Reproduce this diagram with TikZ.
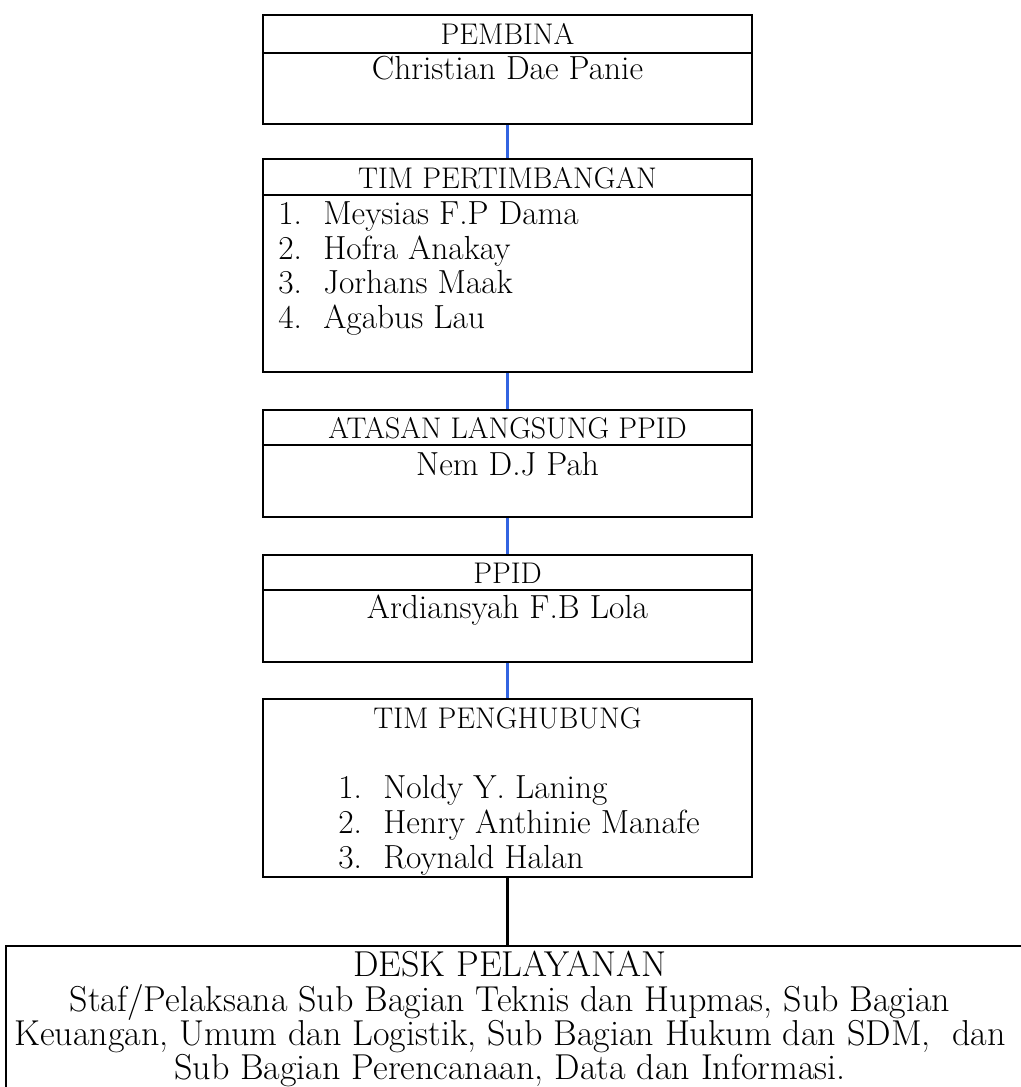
\documentclass[tikz,border=0pt]{standalone}
\usepackage{tikz}
\usetikzlibrary{positioning}
\definecolor{linkblue}{RGB}{50,100,225}
\tikzset{
  unit/.style    ={draw,line width=1.2pt,minimum width=9.78cm,inner sep=0pt},
  rule/.style    ={line width=1.2pt},
  head/.style    ={font=\fontsize{17}{19}\selectfont,inner sep=0pt,anchor=base},
  holder/.style  ={font=\fontsize{19}{20}\selectfont,inner sep=0pt,anchor=base},
  item/.style    ={font=\fontsize{19}{20}\selectfont,inner sep=0pt,anchor=base west},
  desktext/.style={font=\fontsize{20.5}{19.5}\selectfont,inner sep=0pt,align=center,anchor=north},
  link/.style    ={linkblue,line width=1.4pt},
  lastlink/.style={black,line width=1.2pt},
}
\begin{document}
\begin{tikzpicture}[x=0.02cm,y=-0.02cm]
  \useasboundingbox (0,0) rectangle (1020,1087);
  % boxes with a heading and one holder
  \foreach \name/\yc/\h/\yd/\yt/\head/\yw/\who in {
     pembina/69.5/2.18/53/45/PEMBINA/80/Christian Dae Panie,
     atasan/463.5/2.14/445/438/ATASAN LANGSUNG PPID/475/Nem D.J Pah,
     ppid/608.5/2.14/590/583/PPID/618/Ardiansyah F.B Lola}{
     \node[unit,minimum height=\h cm] (\name) at (507.5,\yc) {};
     \draw[rule] (\name.west |- 0,\yd) -- (\name.east |- 0,\yd);
     \node[head] (\name-head) at (507.5,\yt) {\head};
     \node[holder] (\name-who) at (507.5,\yw) {\who};
  }
  % tim pertimbangan
  \node[unit,minimum height=4.26cm] (pertim) at (507.5,265.5) {};
  \draw[rule] (pertim.west |- 0,195) -- (pertim.east |- 0,195);
  \node[head] (pertim-head) at (507.5,189) {TIM PERTIMBANGAN};
  \foreach \i/\y/\who in {1/225/Meysias F.P Dama,2/260/Hofra Anakay,
                          3/294/Jorhans Maak,4/329/Agabus Lau}{
     \node[item] (pertim-n\i) at (278,\y) {\i.};
     \node[item] (pertim-w\i) at (323,\y) {\who};
  }
  % tim penghubung
  \node[unit,minimum height=3.56cm] (penghub) at (507.5,788) {};
  \node[head] (penghub-head) at (507.5,728) {TIM PENGHUBUNG};
  \foreach \i/\y/\who in {1/798/Noldy Y. Laning,2/833/Henry Anthinie Manafe,
                          3/868/Roynald Halan}{
     \node[item] (penghub-n\i) at (338,\y) {\i.};
     \node[item] (penghub-w\i) at (383,\y) {\who};
  }
  % desk pelayanan (runs off the page)
  \node[unit,minimum width=20.6cm,minimum height=3.4cm] (desk) at (521,1031) {};
  \node[desktext] (desk-text) at (510,951)
     {DESK PELAYANAN\\
      Staf/Pelaksana Sub Bagian Teknis dan Hupmas, Sub Bagian\\
      Keuangan, Umum dan Logistik, Sub Bagian Hukum dan SDM,\ \ dan\\
      Sub Bagian Perencanaan, Data dan Informasi.};
  % connectors
  \draw[link] (pembina) -- (pertim);
  \draw[link] (pertim) -- (atasan);
  \draw[link] (atasan) -- (ppid);
  \draw[link] (ppid) -- (penghub);
  \draw[lastlink] (penghub.south) -- (penghub.south |- desk.north);
\end{tikzpicture}
\end{document}
